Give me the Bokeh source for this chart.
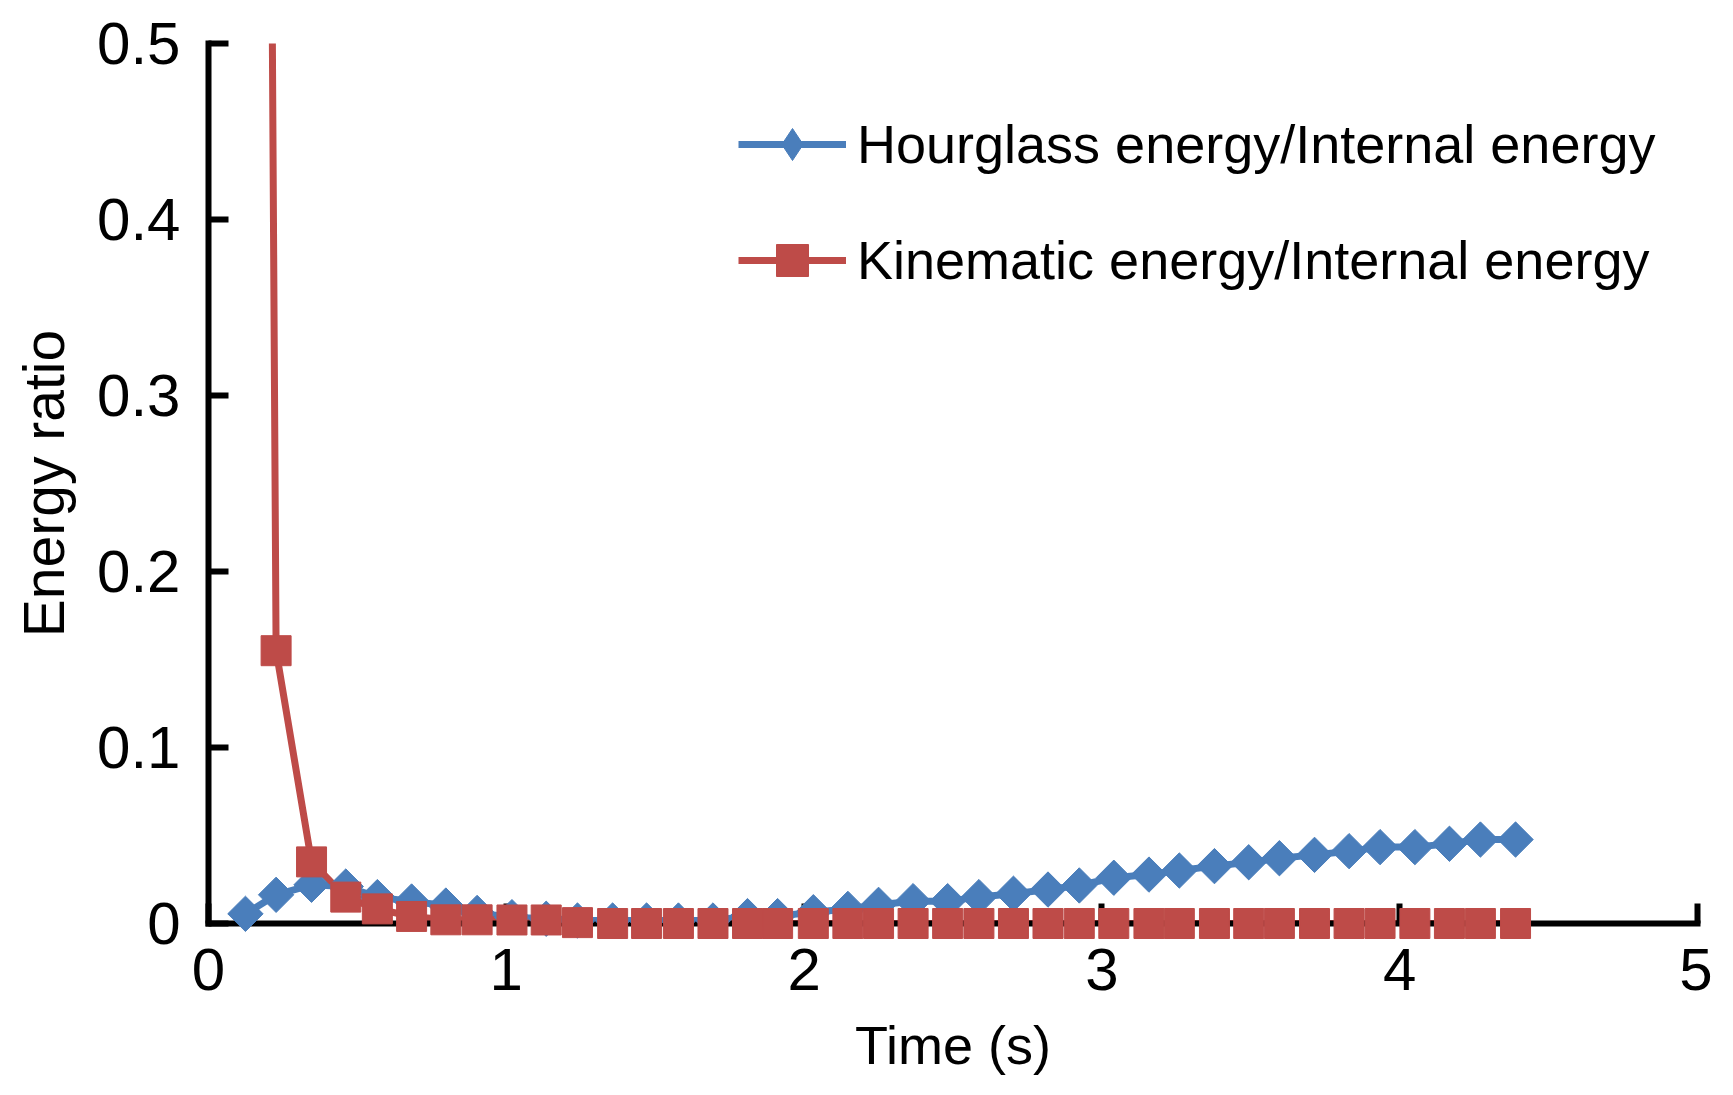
import math
from bokeh.plotting import figure
from bokeh.models import Range1d, FixedTicker, NumeralTickFormatter, Legend, LegendItem
from bokeh.embed import file_html
from bokeh.resources import INLINE

# ---- data ----
time_s = [0.124, 0.227, 0.346, 0.461, 0.567, 0.682, 0.797, 0.902, 1.019, 1.134,
          1.239, 1.357, 1.471, 1.578, 1.694, 1.810, 1.911, 2.031, 2.147, 2.250,
          2.366, 2.482, 2.587, 2.703, 2.819, 2.924, 3.040, 3.158, 3.260, 3.378,
          3.493, 3.596, 3.714, 3.830, 3.934, 4.051, 4.167, 4.271, 4.389]
hourglass_ratio = [0.0055, 0.0163, 0.022, 0.021, 0.015, 0.0125, 0.0102, 0.006, 0.0036, 0.0027,
                   0.0017, 0.0017, 0.0017, 0.0017, 0.0017, 0.0042, 0.0042, 0.0064, 0.0083, 0.0106,
                   0.0127, 0.0127, 0.015, 0.0169, 0.0193, 0.0216, 0.026, 0.0278, 0.0301, 0.0326,
                   0.0348, 0.0371, 0.039, 0.0411, 0.0434, 0.0434, 0.0453, 0.0477, 0.0477]
kinematic_ratio = [3.0, 0.155, 0.035, 0.015, 0.0083, 0.004, 0.0021, 0.0021, 0.002, 0.002,
                   0.0005, 0.0, 0.0, 0.0, 0.0, 0.0, 0.0, 0.0, 0.0, 0.0,
                   0.0, 0.0, 0.0, 0.0, 0.0, 0.0, 0.0, 0.0, 0.0, 0.0,
                   0.0, 0.0, 0.0, 0.0, 0.0, 0.0, 0.0, 0.0, 0.0]

x_ticks = [0, 1, 2, 3, 4, 5]
y_ticks = [0, 0.1, 0.2, 0.3, 0.4, 0.5]
series_names = ["Hourglass energy/Internal energy", "Kinematic energy/Internal energy"]
x_title = "Time (s)"
y_title = "Energy ratio"

BLUE = "#4A7EBB"
RED = "#BE4B48"
FONT = "Liberation Sans"
FS = "54px"
TICK_FS = "60px"

p = figure(width=1712, height=1079, output_backend="svg", toolbar_location=None,
           x_range=Range1d(0, 5), y_range=Range1d(0, 0.5),
           min_border_left=208, min_border_right=15, min_border_top=43, min_border_bottom=156)
p.outline_line_color = None
p.grid.visible = False
p.background_fill_color = "white"
p.border_fill_color = "white"

for ax in (p.xaxis[0], p.yaxis[0]):
    ax.axis_line_width = 6
    ax.axis_line_color = "black"
    ax.axis_line_cap = "square"
    ax.major_tick_line_width = 6
    ax.major_tick_line_color = "black"
    ax.major_tick_in = 20
    ax.major_tick_out = 0
    ax.minor_tick_line_color = None
    ax.major_label_text_font = FONT
    ax.major_label_text_font_size = TICK_FS
    ax.major_label_text_color = "black"
    ax.axis_label_text_font = FONT
    ax.axis_label_text_font_style = "normal"
    ax.axis_label_text_color = "black"

p.xaxis.ticker = FixedTicker(ticks=x_ticks)
p.yaxis.ticker = FixedTicker(ticks=y_ticks)
p.yaxis.formatter = NumeralTickFormatter(format="0.[0]")
p.xaxis.major_label_standoff = 25
p.yaxis.major_label_standoff = 28
p.xaxis.axis_label = x_title
p.yaxis.axis_label = y_title
p.xaxis.axis_label_text_font_size = FS
p.yaxis.axis_label_text_font_size = "57px"
p.xaxis.axis_label_standoff = 22
p.yaxis.axis_label_standoff = 18

bl = p.line(time_s, hourglass_ratio, line_color=BLUE, line_width=7, line_join="round")
rl = p.line(time_s, kinematic_ratio, line_color=RED, line_width=7, line_join="round")
bs = p.scatter(time_s, hourglass_ratio, marker="square", size=25, angle=math.pi / 4,
               fill_color=BLUE, line_color=BLUE, line_width=1, level="overlay")
rs = p.scatter(time_s, kinematic_ratio, marker="square", size=30,
               fill_color=RED, line_color=RED, line_width=1, level="overlay")
# legend symbol for the hourglass series (hidden in the plot itself)
bleg = p.scatter(time_s, hourglass_ratio, marker="diamond", fill_color=BLUE, line_color=BLUE,
                 line_width=1, visible=False)

legend = Legend(items=[LegendItem(label=series_names[0], renderers=[bl, bleg]),
                       LegendItem(label=series_names[1], renderers=[rl, rs])],
                location=(530, 623), orientation="vertical")
legend.margin = 0
legend.padding = 0
legend.spacing = 36
legend.glyph_width = 108
legend.glyph_height = 80
legend.label_height = 80
legend.label_standoff = 11
legend.label_text_font = FONT
legend.label_text_font_size = FS
legend.label_text_color = "black"
legend.border_line_color = None
legend.background_fill_alpha = 0
legend.inactive_fill_alpha = 0
p.add_layout(legend, "center")

open("out.html", "w").write(file_html(p, INLINE))
